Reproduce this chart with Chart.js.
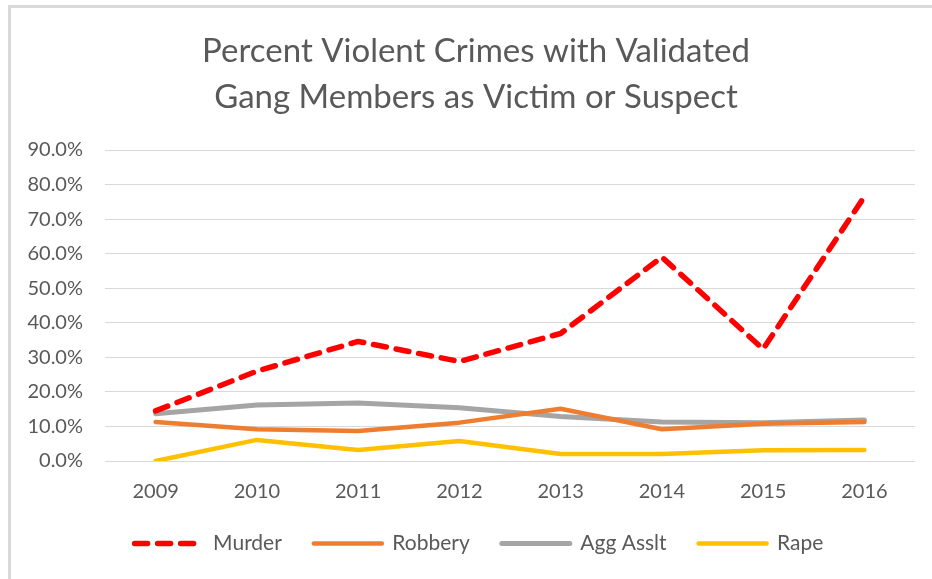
<!DOCTYPE html>
<html>
<head>
<meta charset="utf-8">
<script src="https://cdn.jsdelivr.net/npm/chart.js@4"></script>
<style>
    html, body { margin: 0; padding: 0; background: #fff; }
    #wrap { position: relative; width: 932px; height: 579px; }
    #frame {
        position: absolute; left: 8px; top: 5px; right: 0; bottom: 0;
        border-top: 3px solid #d9d9d9; border-left: 3px solid #d9d9d9;
        pointer-events: none;
    }
    canvas { position: absolute; left: 0; top: 0; }
</style>
</head>
<body>
<div id="wrap">
    <canvas id="chart" width="932" height="579"></canvas>
    <div id="frame"></div>
</div>
<script>
// datos (porcentajes)
const years = ["2009", "2010", "2011", "2012", "2013", "2014", "2015", "2016"];
const murder = [14.5, 26.0, 34.6, 28.8, 36.9, 59.0, 32.4, 76.5];
const robbery = [11.3, 9.2, 8.7, 11.1, 15.1, 9.2, 10.8, 11.3];
const aggAsslt = [13.7, 16.2, 16.8, 15.4, 12.9, 11.3, 11.1, 11.9];
const rape = [0.0, 6.1, 3.2, 5.8, 2.0, 2.0, 3.1, 3.2];

const textColor = "#595959";
const gridColor = "#d9d9d9";
const fontFamily = "Lato, 'Open Sans', sans-serif";

function lineSet(label, data, color, width, dash) {
    return {
        label,
        data,
        borderColor: color,
        backgroundColor: color,
        borderWidth: width,
        borderDash: dash || [],
        borderCapStyle: "round",
        borderJoinStyle: "round",
        pointRadius: 0,
        pointHoverRadius: 0,
        pointStyle: "line",
        tension: 0,
        fill: false
    };
}

// centra título y leyenda sobre el marco del gráfico, no sobre el canvas
const shiftBlocks = {
    id: "shiftBlocks",
    afterLayout(chart) {
        chart.titleBlock.left += 13.5;
        chart.titleBlock.right += 13.5;
        chart.legend.left += 16.5;
        chart.legend.right += 16.5;
    }
};

new Chart(document.getElementById("chart"), {
    type: "line",
    data: {
        labels: years,
        datasets: [
            lineSet("Murder", murder, "#ff0000", 5.5, [13, 10]),
            lineSet("Robbery", robbery, "#ed7d31", 4.5),
            lineSet("Agg Asslt", aggAsslt, "#a5a5a5", 5),
            lineSet("Rape", rape, "#ffc000", 4.5)
        ]
    },
    plugins: [shiftBlocks],
    options: {
        responsive: false,
        animation: false,
        layout: {
            padding: { left: 10, right: 17, top: 0, bottom: 15 }
        },
        plugins: {
            tooltip: { enabled: false },
            title: {
                display: true,
                text: ["Percent Violent Crimes with Validated", "Gang Members as Victim or Suspect"],
                color: textColor,
                font: { family: fontFamily, size: 33, weight: "normal", lineHeight: 45.5 / 33 },
                padding: { top: 28.75, bottom: 30.25 }
            },
            legend: {
                position: "bottom",
                labels: {
                    usePointStyle: true,
                    pointStyle: "line",
                    pointStyleWidth: 68,
                    padding: 32,
                    color: textColor,
                    font: { family: fontFamily, size: 21 },
                    generateLabels(chart) {
                        const items = Chart.defaults.plugins.legend.labels.generateLabels(chart);
                        items.forEach((item) => {
                            const ds = chart.data.datasets[item.datasetIndex];
                            item.lineDash = ds.borderDash;
                            item.lineWidth = ds.borderWidth;
                            item.strokeStyle = ds.borderColor;
                            item.lineCap = "round";
                        });
                        return items;
                    }
                }
            }
        },
        scales: {
            x: {
                offset: true,
                afterFit(scale) {
                    scale.height = 40;
                },
                grid: { display: false, drawTicks: false },
                border: { display: false },
                ticks: {
                    color: textColor,
                    padding: 22,
                    font: { family: fontFamily, size: 20, lineHeight: 18 / 20 }
                }
            },
            y: {
                min: 0,
                max: 90,
                afterFit(scale) {
                    scale.width = 95;
                },
                grid: { color: gridColor, lineWidth: 1, drawTicks: false },
                border: { display: false },
                ticks: {
                    stepSize: 10,
                    padding: 22,
                    color: textColor,
                    font: { family: fontFamily, size: 20 },
                    callback: (v) => v.toFixed(1) + "%"
                }
            }
        }
    }
});
</script>
</body>
</html>
